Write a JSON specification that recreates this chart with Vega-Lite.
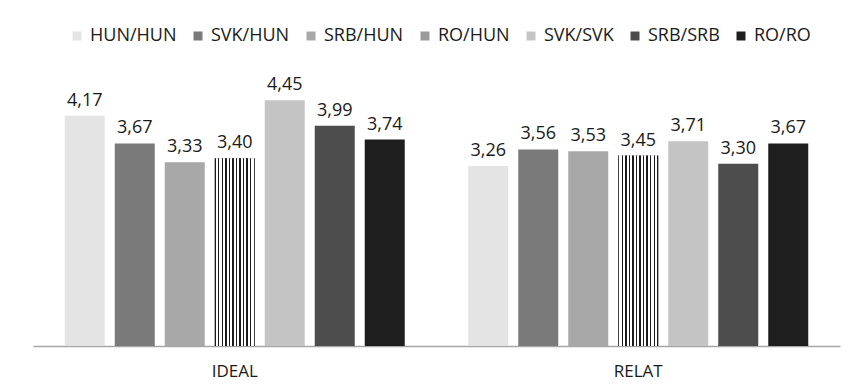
{
  "$schema": "https://vega.github.io/schema/vega-lite/v6.json",
  "width": 807,
  "height": 276,
  "autosize": "none",
  "padding": {"left": 33, "top": 70, "right": 11, "bottom": 44},
  "background": "#ffffff",
  "config": {
    "view": {"stroke": null},
    "font": "Open Sans",
    "locale": {"number": {"decimal": ",", "thousands": ".", "grouping": [3], "currency": ["", ""]}}
  },
  "data": {
    "values": [
      {"dimension": "IDEAL", "group": "HUN/HUN", "value": 4.17},
      {"dimension": "IDEAL", "group": "SVK/HUN", "value": 3.67},
      {"dimension": "IDEAL", "group": "SRB/HUN", "value": 3.33},
      {"dimension": "IDEAL", "group": "RO/HUN", "value": 3.40},
      {"dimension": "IDEAL", "group": "SVK/SVK", "value": 4.45},
      {"dimension": "IDEAL", "group": "SRB/SRB", "value": 3.99},
      {"dimension": "IDEAL", "group": "RO/RO", "value": 3.74},
      {"dimension": "RELAT", "group": "HUN/HUN", "value": 3.26},
      {"dimension": "RELAT", "group": "SVK/HUN", "value": 3.56},
      {"dimension": "RELAT", "group": "SRB/HUN", "value": 3.53},
      {"dimension": "RELAT", "group": "RO/HUN", "value": 3.45},
      {"dimension": "RELAT", "group": "SVK/SVK", "value": 3.71},
      {"dimension": "RELAT", "group": "SRB/SRB", "value": 3.30},
      {"dimension": "RELAT", "group": "RO/RO", "value": 3.67}
    ]
  },
  "encoding": {
    "x": {
      "field": "dimension",
      "type": "nominal",
      "sort": ["IDEAL", "RELAT"],
      "scale": {"paddingInner": 0.1326, "paddingOuter": 0.0663},
      "axis": {
        "title": null,
        "labelAngle": 0,
        "ticks": false,
        "domainColor": "#a6a6a6",
        "domainWidth": 1.5,
        "labelFontSize": 17,
        "labelFont": "Open Sans",
        "labelColor": "#1a1a1a",
        "labelBaseline": "alphabetic",
        "labelPadding": 30
      }
    },
    "xOffset": {
      "field": "group",
      "type": "nominal",
      "sort": ["HUN/HUN", "SVK/HUN", "SRB/HUN", "RO/HUN", "SVK/SVK", "SRB/SRB", "RO/RO"],
      "scale": {"paddingInner": 0.2, "paddingOuter": 0.1}
    },
    "y": {
      "field": "value",
      "type": "quantitative",
      "scale": {"domain": [0, 5]},
      "axis": null
    }
  },
  "layer": [
    {
      "mark": {"type": "bar"},
      "encoding": {
        "color": {
          "field": "group",
          "type": "nominal",
          "sort": ["HUN/HUN", "SVK/HUN", "SRB/HUN", "RO/HUN", "SVK/SVK", "SRB/SRB", "RO/RO"],
          "scale": {
            "domain": ["HUN/HUN", "SVK/HUN", "SRB/HUN", "RO/HUN", "SVK/SVK", "SRB/SRB", "RO/RO"],
            "range": ["#e4e4e4", "#7a7a7a", "#a8a8a8", "#9a9a9a", "#c4c4c4", "#4d4d4d", "#1e1e1e"]
          },
          "legend": {
            "title": null,
            "orient": "none",
            "direction": "horizontal",
            "legendX": 35,
            "legendY": -43,
            "padding": 0,
            "symbolType": "square",
            "symbolSize": 81,
            "symbolStrokeWidth": 0,
            "labelFontSize": 18,
            "labelFont": "Open Sans",
            "labelColor": "#1a1a1a",
            "labelOffset": 4,
            "columnPadding": 12
          }
        }
      }
    },
    {
      "transform": [{"filter": "datum.group === 'RO/HUN'"}],
      "mark": {
        "type": "bar",
        "fill": {
          "gradient": "linear",
          "x1": 0, "y1": 0, "x2": 1, "y2": 0,
          "stops": [
            {"offset": 0, "color": "#1a1a1a"}, {"offset": 0.03, "color": "#1a1a1a"}, {"offset": 0.03, "color": "#ffffff"}, {"offset": 0.0882, "color": "#ffffff"},
            {"offset": 0.0882, "color": "#1a1a1a"}, {"offset": 0.1182, "color": "#1a1a1a"}, {"offset": 0.1182, "color": "#ffffff"}, {"offset": 0.1764, "color": "#ffffff"},
            {"offset": 0.1764, "color": "#1a1a1a"}, {"offset": 0.2064, "color": "#1a1a1a"}, {"offset": 0.2064, "color": "#ffffff"}, {"offset": 0.2645, "color": "#ffffff"},
            {"offset": 0.2645, "color": "#1a1a1a"}, {"offset": 0.2945, "color": "#1a1a1a"}, {"offset": 0.2945, "color": "#ffffff"}, {"offset": 0.3527, "color": "#ffffff"},
            {"offset": 0.3527, "color": "#1a1a1a"}, {"offset": 0.3827, "color": "#1a1a1a"}, {"offset": 0.3827, "color": "#ffffff"}, {"offset": 0.4409, "color": "#ffffff"},
            {"offset": 0.4409, "color": "#1a1a1a"}, {"offset": 0.4709, "color": "#1a1a1a"}, {"offset": 0.4709, "color": "#ffffff"}, {"offset": 0.5291, "color": "#ffffff"},
            {"offset": 0.5291, "color": "#1a1a1a"}, {"offset": 0.5591, "color": "#1a1a1a"}, {"offset": 0.5591, "color": "#ffffff"}, {"offset": 0.6173, "color": "#ffffff"},
            {"offset": 0.6173, "color": "#1a1a1a"}, {"offset": 0.6473, "color": "#1a1a1a"}, {"offset": 0.6473, "color": "#ffffff"}, {"offset": 0.7055, "color": "#ffffff"},
            {"offset": 0.7055, "color": "#1a1a1a"}, {"offset": 0.7355, "color": "#1a1a1a"}, {"offset": 0.7355, "color": "#ffffff"}, {"offset": 0.7936, "color": "#ffffff"},
            {"offset": 0.7936, "color": "#1a1a1a"}, {"offset": 0.8236, "color": "#1a1a1a"}, {"offset": 0.8236, "color": "#ffffff"}, {"offset": 0.8818, "color": "#ffffff"},
            {"offset": 0.8818, "color": "#1a1a1a"}, {"offset": 0.9118, "color": "#1a1a1a"}, {"offset": 0.9118, "color": "#ffffff"}, {"offset": 0.97, "color": "#ffffff"},
            {"offset": 0.97, "color": "#1a1a1a"}, {"offset": 1, "color": "#1a1a1a"}
          ]
        }
      }
    },
    {
      "mark": {"type": "text", "baseline": "alphabetic", "dy": -10, "fontSize": 18, "font": "Open Sans", "color": "#1a1a1a"},
      "encoding": {
        "text": {"field": "value", "type": "quantitative", "format": ".2f"}
      }
    }
  ]
}
